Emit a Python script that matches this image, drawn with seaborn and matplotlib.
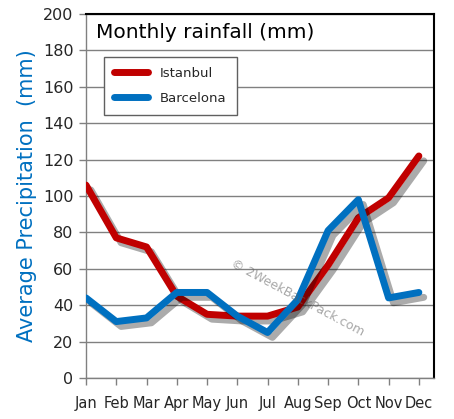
import matplotlib
matplotlib.use("Agg")
import matplotlib.pyplot as plt
import matplotlib.patheffects as pe
import numpy as np
import pandas as pd
import seaborn as sns

# data
months = ["Jan", "Feb", "Mar", "Apr", "May", "Jun",
          "Jul", "Aug", "Sep", "Oct", "Nov", "Dec"]
istanbul = [106, 77, 72, 45, 35, 34, 34, 39, 62, 88, 99, 122]
barcelona = [44, 31, 33, 47, 47, 34, 25, 43, 81, 98, 44, 47]
y_ticks = list(range(0, 201, 20))

RED = "#C00000"
BLUE = "#0070C0"

df = pd.DataFrame({
    "month": list(range(12)) * 2,
    "rain": istanbul + barcelona,
    "city": ["Istanbul"] * 12 + ["Barcelona"] * 12,
})

sns.set_style("white")
plt.rcParams["font.family"] = ["DejaVu Sans"]

fig = plt.figure(figsize=(4.54, 4.19), dpi=100)
ax = fig.add_axes([86 / 454, 41 / 419, 348 / 454, 364 / 419])

sns.lineplot(data=df, x="month", y="rain", hue="city",
             palette={"Istanbul": RED, "Barcelona": BLUE},
             linewidth=5, ax=ax, legend=False, zorder=3)

shadow = [pe.SimpleLineShadow(offset=(3.5, -3.5), shadow_color="black", alpha=0.33),
          pe.Normal()]
for ln in ax.lines:
    ln.set_path_effects(shadow)
    ln.set_solid_capstyle("round")
    ln.set_solid_joinstyle("round")

ax.set_xlim(0, 11.5)
ax.set_ylim(0, 200)
ax.set_yticks(y_ticks)
ax.set_xticks(range(12))
ax.set_xticklabels(months)
ax.grid(axis="y", color="#808080", linewidth=1)
ax.set_axisbelow(True)

for side in ["left", "bottom"]:
    ax.spines[side].set_color("#808080")
    ax.spines[side].set_linewidth(1)
for side in ["top", "right"]:
    ax.spines[side].set_color("black")
    ax.spines[side].set_linewidth(1.5)

ax.tick_params(axis="both", which="major", length=5, width=1, color="#808080",
               direction="out", left=True, bottom=True)
ax.tick_params(axis="x", pad=8, labelsize=10.5)
ax.tick_params(axis="y", pad=4, labelsize=11.5)

ax.set_xlabel("")
ax.set_ylabel("Average Precipitation  (mm)", color=BLUE, fontsize=15, labelpad=4)

ax.text(0.03, 0.975, "Monthly rainfall (mm)", transform=ax.transAxes,
        fontsize=14.5, va="top", ha="left", color="black")

# legend built from the two series
handles = [plt.Line2D([], [], color=RED, linewidth=5, solid_capstyle="round"),
           plt.Line2D([], [], color=BLUE, linewidth=5, solid_capstyle="round")]
leg = ax.legend(handles, ["Istanbul", "Barcelona"], loc="upper left",
                bbox_to_anchor=(0.052, 0.882), borderaxespad=0, fancybox=False,
                edgecolor="#606060", framealpha=1, fontsize=9.5,
                handlelength=2.6, labelspacing=0.9, borderpad=0.75,
                handletextpad=0.9)
leg.get_frame().set_linewidth(1)

ax.text(0.41, 0.22, "© 2WeekBackPack.com", transform=ax.transAxes,
        fontsize=9, color="#606060", alpha=0.55, rotation=-28,
        ha="left", va="center", zorder=5)

fig.savefig("out.png", dpi=100)
